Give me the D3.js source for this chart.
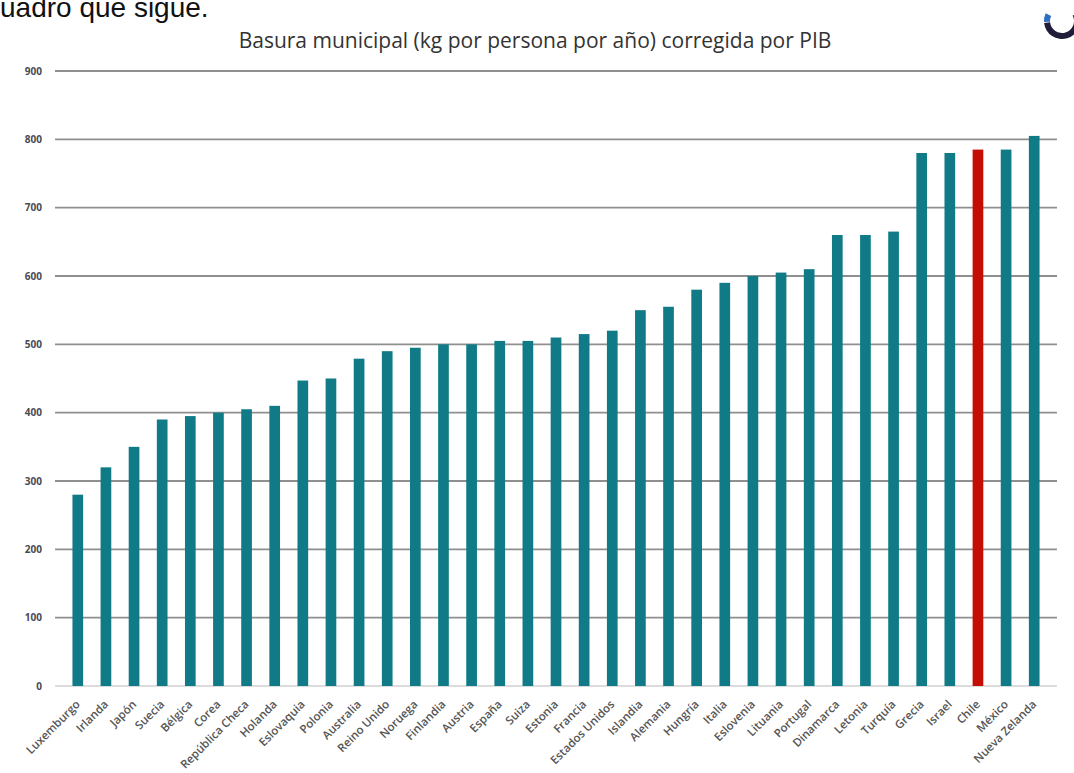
<!DOCTYPE html>
<html>
<head>
<meta charset="utf-8">
<script src="https://cdn.jsdelivr.net/npm/d3@7"></script>
<style>
  html, body { margin: 0; padding: 0; background: #fff; overflow: hidden; }
  svg { display: block; }
</style>
</head>
<body>
<div id="chart"></div>
<script>
// ── Data ──────────────────────────────────────────────────────────
const countries = [
  'Luxemburgo', 'Irlanda', 'Japón', 'Suecia', 'Bélgica', 'Corea',
  'República Checa', 'Holanda', 'Eslovaquia', 'Polonia', 'Australia',
  'Reino Unido', 'Noruega', 'Finlandia', 'Austria', 'España', 'Suiza',
  'Estonia', 'Francia', 'Estados Unidos', 'Islandia', 'Alemania',
  'Hungría', 'Italia', 'Eslovenia', 'Lituania', 'Portugal', 'Dinamarca',
  'Letonia', 'Turquía', 'Grecia', 'Israel', 'Chile', 'México',
  'Nueva Zelanda'
];
const wastePerCapita = [
  280, 320, 350, 390, 395, 400,
  405, 410, 447, 450, 479,
  490, 495, 500, 500, 505, 505,
  510, 515, 520, 550, 555,
  580, 590, 600, 605, 610, 660,
  660, 665, 780, 780, 785, 785,
  805
];
const highlight = ['Chile'];
const yTicks = [0, 100, 200, 300, 400, 500, 600, 700, 800, 900];

const W = 1074, H = 773;
const PLOT = { left: 55, right: 1057, top: 71, bottom: 686 };

const TEAL = '#107b87';
const RED  = '#c40d05';

const svg = d3.select('#chart').append('svg')
  .attr('width', W)
  .attr('height', H);

// ── Page text + logo fragment around the chart ────────────────────
svg.append('text')
  .attr('x', 0)
  .attr('y', 17)
  .attr('font-family', 'Liberation Sans, Arial, sans-serif')
  .attr('font-size', 28)
  .attr('fill', '#111')
  .text('uadro que sigue.');

const logoArc = d3.arc().innerRadius(12).outerRadius(18);
svg.append('path')
  .attr('d', logoArc({ startAngle: 1.1, endAngle: 4.6 }))
  .attr('transform', 'translate(1062,21)')
  .attr('fill', '#1f1d3a');
svg.append('path')
  .attr('d', logoArc({ startAngle: 4.65, endAngle: 5.15 }))
  .attr('transform', 'translate(1062,21)')
  .attr('fill', '#2f6fc0');

// ── Scales ────────────────────────────────────────────────────────
const x = d3.scaleBand()
  .domain(countries)
  .range([PLOT.left, PLOT.right])
  .padding(0.62);

const y = d3.scaleLinear()
  .domain([0, 900])
  .range([PLOT.bottom, PLOT.top]);

// ── Title ─────────────────────────────────────────────────────────
svg.append('text')
  .attr('x', 535)
  .attr('y', 48)
  .attr('text-anchor', 'middle')
  .attr('font-family', 'Open Sans, sans-serif')
  .attr('font-size', 21)
  .attr('fill', '#333')
  .text('Basura municipal (kg por persona por año) corregida por PIB');

// ── Gridlines + y labels ──────────────────────────────────────────
svg.append('g')
  .selectAll('line')
  .data(yTicks)
  .join('line')
  .attr('x1', PLOT.left)
  .attr('x2', PLOT.right)
  .attr('y1', d => y(d))
  .attr('y2', d => y(d))
  .attr('stroke', d => d === 0 ? '#dcdcdc' : '#8f8f8f')
  .attr('stroke-width', d => d === 0 ? 2 : 1.8);

const yAxis = d3.axisLeft(y)
  .tickValues(yTicks)
  .tickSize(0)
  .tickPadding(0);

svg.append('g')
  .attr('transform', `translate(${PLOT.left - 13},0)`)
  .call(yAxis)
  .call(g => g.select('.domain').remove())
  .call(g => g.selectAll('text')
    .attr('font-family', 'Open Sans, sans-serif')
    .attr('font-size', 10)
    .attr('font-weight', 700)
    .attr('fill', '#4a4a55'));

// ── Bars ──────────────────────────────────────────────────────────
svg.append('g')
  .selectAll('rect')
  .data(countries)
  .join('rect')
  .attr('x', d => x(d))
  .attr('width', x.bandwidth())
  .attr('y', (d, i) => y(wastePerCapita[i]))
  .attr('height', (d, i) => y(0) - y(wastePerCapita[i]))
  .attr('fill', d => highlight.includes(d) ? RED : TEAL);

// ── X labels (rotated) ────────────────────────────────────────────
const xAxis = d3.axisBottom(x)
  .tickSize(0)
  .tickPadding(0);

svg.append('g')
  .attr('transform', `translate(0,${PLOT.bottom})`)
  .call(xAxis)
  .call(g => g.select('.domain').remove())
  .call(g => g.selectAll('text')
    .attr('font-family', 'Open Sans, sans-serif')
    .attr('font-size', 11.5)
    .attr('font-weight', 600)
    .attr('fill', '#555')
    .attr('text-anchor', 'end')
    .attr('dy', 0)
    .attr('transform', 'translate(3,19) rotate(-45)'));
</script>
</body>
</html>
